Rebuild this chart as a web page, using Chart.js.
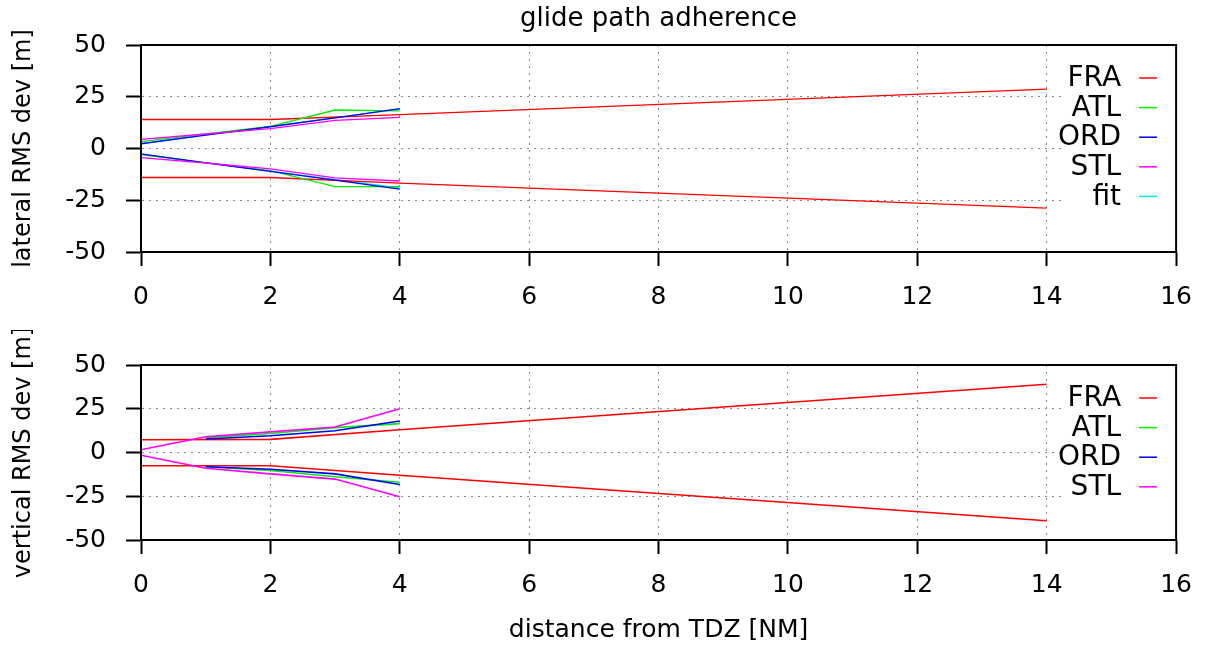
<!DOCTYPE html>
<html><head><meta charset="utf-8">
<script src="https://cdn.jsdelivr.net/npm/chart.js@4"></script>
<style>html,body{margin:0;padding:0;background:#fff;}canvas{display:block;}</style>
</head><body>
<canvas id="c1" width="1208" height="330"></canvas>
<canvas id="c2" width="1208" height="317"></canvas>
<script>
// ---- data ----
const titleText = 'glide path adherence';
const xAxisTitle = 'distance from TDZ [NM]';
const latTitle = 'lateral RMS dev [m]';
const vertTitle = 'vertical RMS dev [m]';
const xTickValues = [0, 2, 4, 6, 8, 10, 12, 14, 16];
const yTickValues = [-50, -25, 0, 25, 50];

// lateral (top panel)
const latFRA_x  = [0, 2, 4, 14];
const latFRA_hi = [14, 14, 16.4, 28.7];
const latFRA_lo = [-14, -14, -16.7, -28.8];
const latATL_x  = [0, 1, 2, 3, 4];
const latATL_hi = [3.3, 7.0, 10.7, 18.6, 18.2];
const latATL_lo = [-3.0, -6.8, -10.7, -18.4, -18.4];
const latORD_x  = [0, 1, 2, 3, 4];
const latORD_hi = [2.3, 6.5, 10.5, 14.8, 19.3];
const latORD_lo = [-2.6, -6.9, -11.0, -15.3, -19.6];
const latSTL_x  = [0, 1, 2, 3, 4];
const latSTL_hi = [4.4, 7.0, 9.6, 13.6, 15.0];
const latSTL_lo = [-4.4, -7.0, -9.8, -14.2, -15.7];
const latFIT_x  = [0, 4];
const latFIT_hi = [2.4, 19.0];
const latFIT_lo = [-2.8, -19.0];

// vertical (bottom panel)
const verFRA_x  = [0, 2, 4, 14];
const verFRA_hi = [7.3, 7.5, 13.0, 39.0];
const verFRA_lo = [-7.6, -7.6, -13.0, -39.0];
const verATL_x  = [1, 2, 3, 4];
const verATL_hi = [8.5, 10.9, 14.2, 16.5];
const verATL_lo = [-8.1, -10.3, -13.9, -17.0];
const verORD_x  = [1, 2, 3, 4];
const verORD_hi = [7.7, 9.6, 12.4, 18.0];
const verORD_lo = [-8.1, -9.6, -12.2, -18.3];
const verSTL_x  = [0, 1, 2, 3, 4];
const verSTL_hi = [1.6, 9.0, 11.8, 14.6, 25.0];
const verSTL_lo = [-1.6, -9.0, -12.2, -15.2, -25.3];

// ---- styling ----
const FONT = "'DejaVu Sans', sans-serif";
Chart.defaults.font.family = FONT;
Chart.defaults.color = '#000';
const COLORS = {FRA: '#ff0000', ATL: '#00ee00', ORD: '#0000ff', STL: '#ff00ff', fit: '#00eeee'};
const ORDER = {STL: 1, ORD: 2, ATL: 3, FRA: 4, fit: 5};

function branch(label, xs, ys, key, width) {
  return {
    label: label,
    data: xs.map((x, i) => ({x: x, y: ys[i]})),
    borderColor: COLORS[label],
    backgroundColor: COLORS[label],
    borderWidth: width,
    pointRadius: 0,
    pointHoverRadius: 0,
    fill: false,
    tension: 0,
    order: ORDER[label],
    key: key
  };
}
function series(label, xs, hi, lo, width) {
  return [branch(label, xs, hi, true, width), branch(label, xs, lo, false, width)];
}

const keyPlugin = {
  id: 'gpkey',
  afterDatasetsDraw(chart) {
    const {ctx, chartArea} = chart;
    const items = chart.data.datasets.filter(d => d.key);
    const first = chartArea.top + 33, step = 29.6;
    ctx.save();
    ctx.fillStyle = '#fff';
    ctx.fillRect(1064, chartArea.top + 1, chartArea.right - 1064, 33 + (items.length - 1) * step + 16);
    ctx.font = '28px ' + FONT;
    ctx.textAlign = 'right';
    ctx.textBaseline = 'middle';
    items.forEach((d, i) => {
      const y = first + i * step;
      ctx.fillStyle = '#000';
      ctx.fillText(d.label, chartArea.right - 55, y + 1);
      ctx.strokeStyle = d.borderColor;
      ctx.lineWidth = 1.5;
      ctx.beginPath();
      ctx.moveTo(chartArea.right - 37, y);
      ctx.lineTo(chartArea.right - 19, y);
      ctx.stroke();
    });
    ctx.restore();
  },
  afterDraw(chart) {
    const {ctx, chartArea: a} = chart;
    ctx.save();
    ctx.strokeStyle = '#000';
    ctx.lineWidth = 2;
    ctx.strokeRect(a.left, a.top, a.right - a.left, a.bottom - a.top);
    const t = chart.options.plugins.gpkey && chart.options.plugins.gpkey.title;
    if (t) {
      ctx.fillStyle = '#000';
      ctx.font = '26px ' + FONT;
      ctx.textAlign = 'center';
      ctx.textBaseline = 'middle';
      ctx.fillText(t, (a.left + a.right) / 2, 19);
    }
    ctx.restore();
  }
};

function makeOptions(yTitle, opts) {
  return {
    responsive: false,
    animation: false,
    events: [],
    layout: {padding: {left: 0, right: 26, top: opts.padTop, bottom: 0}},
    plugins: {
      legend: {display: false},
      tooltip: {enabled: false},
      title: {display: false},
      gpkey: {title: opts.title || null}
    },
    scales: {
      x: {
        type: 'linear', min: 0, max: 16,
        afterBuildTicks: s => { s.ticks = xTickValues.map(v => ({value: v})); },
        afterFit: s => { s.height = opts.xHeight; },
        ticks: {font: {size: 25}, color: '#000', padding: 16, maxRotation: 0, autoSkip: false},
        grid: {color: '#888', lineWidth: 1, tickLength: 14, tickColor: '#000', tickWidth: 2},
        border: {display: true, color: '#000', width: 2, dash: [2, 5]},
        title: opts.xTitle ? {
          display: true, text: opts.xTitle, color: '#000',
          font: {size: 25}, padding: {top: 0, bottom: 2}
        } : {display: false}
      },
      y: {
        type: 'linear', min: -50, max: 50,
        afterBuildTicks: s => { s.ticks = yTickValues.map(v => ({value: v})); },
        afterFit: s => { s.width = 141; },
        ticks: {font: {size: 25}, color: '#000', padding: 20},
        grid: {color: '#888', lineWidth: 1, tickLength: 15, tickColor: '#000', tickWidth: 2},
        border: {display: true, color: '#000', width: 2, dash: [2, 5]},
        title: {display: true, text: yTitle, color: '#000', font: {size: 24}, padding: {top: 9, bottom: 0}}
      }
    }
  };
}

const latDatasets = [].concat(
  series('FRA', latFRA_x, latFRA_hi, latFRA_lo, 1.3),
  series('ATL', latATL_x, latATL_hi, latATL_lo, 1.3),
  series('ORD', latORD_x, latORD_hi, latORD_lo, 1.3),
  series('STL', latSTL_x, latSTL_hi, latSTL_lo, 1.3),
  series('fit', latFIT_x, latFIT_hi, latFIT_lo, 1.3)
);
const verDatasets = [].concat(
  series('FRA', verFRA_x, verFRA_hi, verFRA_lo, 1.6),
  series('ATL', verATL_x, verATL_hi, verATL_lo, 1.6),
  series('ORD', verORD_x, verORD_hi, verORD_lo, 1.6),
  series('STL', verSTL_x, verSTL_hi, verSTL_lo, 1.6)
);

new Chart(document.getElementById('c1'), {
  type: 'line',
  data: {datasets: latDatasets},
  options: makeOptions(latTitle, {title: titleText, padTop: 45, xHeight: 78}),
  plugins: [keyPlugin]
});
new Chart(document.getElementById('c2'), {
  type: 'line',
  data: {datasets: verDatasets},
  options: makeOptions(vertTitle, {padTop: 31, xHeight: 107, xTitle: xAxisTitle}),
  plugins: [keyPlugin]
});
</script>
</body></html>
